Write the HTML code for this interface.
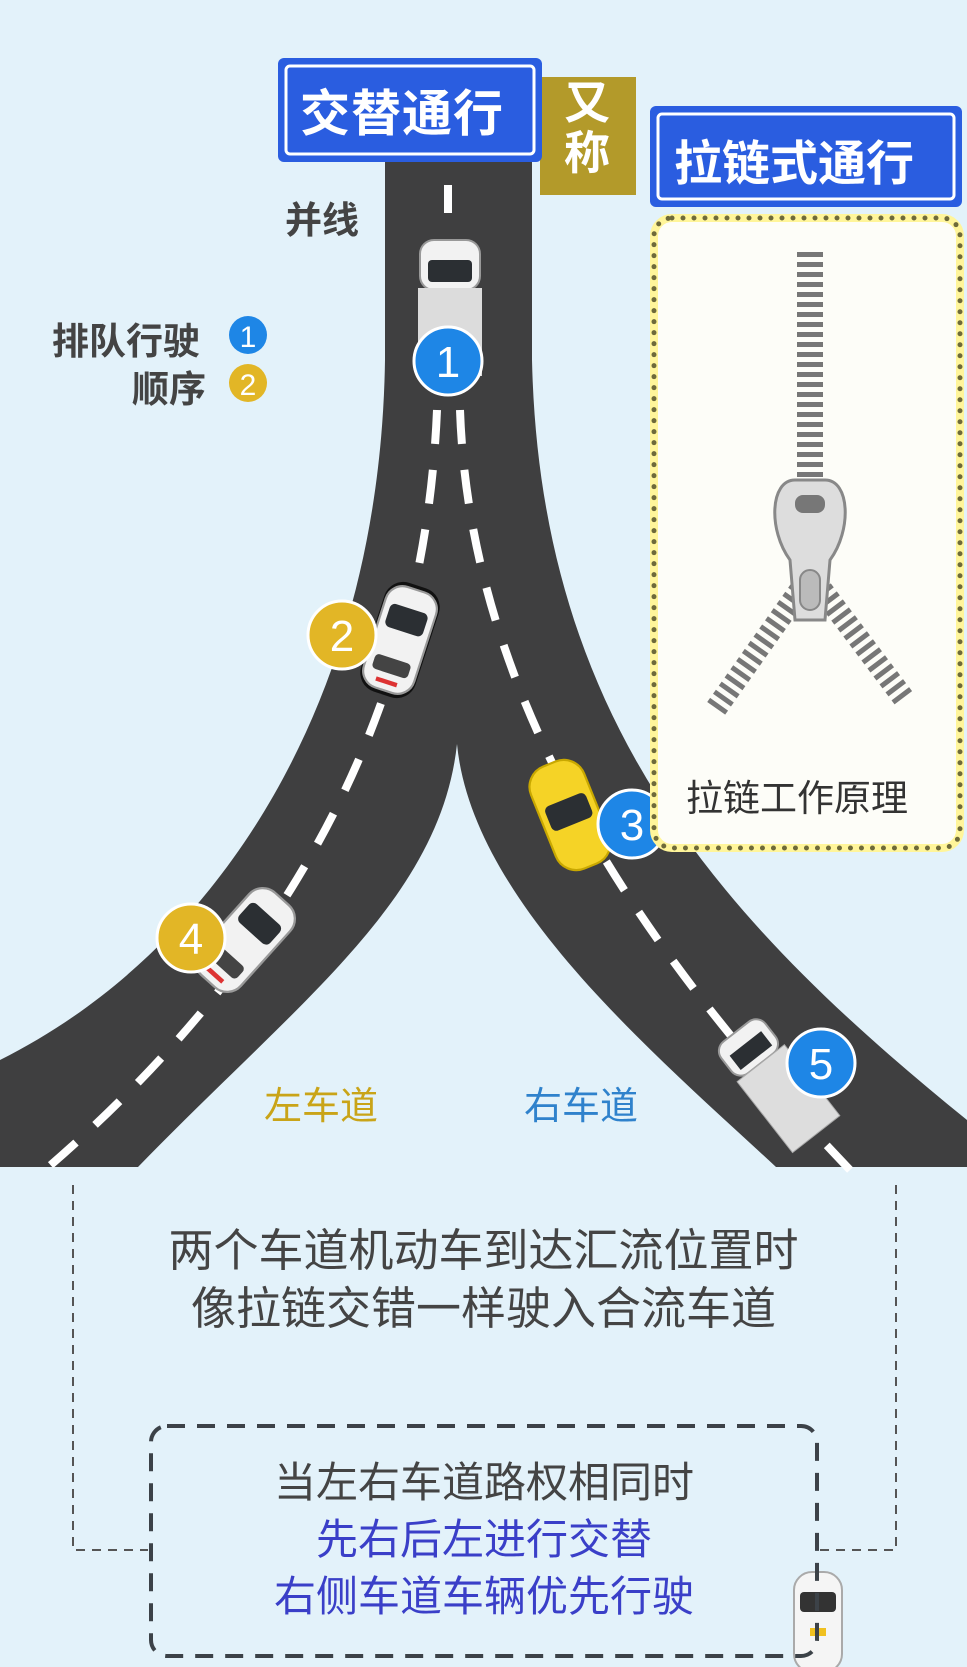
<!DOCTYPE html>
<html><head><meta charset="utf-8"><style>
body{margin:0;width:967px;height:1667px;background:#e3f2fa;position:relative;overflow:hidden;font-family:"Liberation Sans","Noto Sans CJK SC",sans-serif}
.t{position:absolute;white-space:nowrap}
</style></head><body>
<svg width="967" height="1667" style="position:absolute;left:0;top:0">
<defs>
<g id="car"><rect x="-24" y="-48" width="48" height="96" rx="16" fill="#f2f2f2" stroke="#999" stroke-width="2"/><rect x="-18" y="-30" width="36" height="22" rx="5" fill="#2b2f33"/><rect x="-17" y="18" width="34" height="14" rx="4" fill="#444"/><rect x="-10" y="38" width="20" height="4" fill="#d33"/></g>
</defs>
<path d="M385,162 L385,360 C380,700 220,950 0,1060 L0,1167 L138,1167 C300,1000 440,900 457,744 C472,900 650,1050 776,1167 L967,1167 L967,1120 C720,920 540,720 532,360 L532,162 Z" fill="#3f3f40"/>
<path d="M448,185 L448,330" stroke="#fff" stroke-width="8" stroke-dasharray="28,28" fill="none"/>
<path d="M437,410 C425,700 300,950 45,1170" stroke="#fff" stroke-width="8" stroke-dasharray="34,26" fill="none"/>
<path d="M460,410 C470,700 640,950 850,1170" stroke="#fff" stroke-width="8" stroke-dasharray="34,26" fill="none"/>
<g transform="translate(450,310)"><rect x="-30" y="-70" width="60" height="50" rx="14" fill="#f2f2f2" stroke="#999" stroke-width="2"/><rect x="-22" y="-50" width="44" height="22" rx="4" fill="#2b2f33"/><rect x="-32" y="-22" width="64" height="88" fill="#dcdcdc"/></g>
<g transform="translate(400,640) rotate(18) scale(1.1)"><rect x="-26" y="-52" width="52" height="104" rx="18" fill="#111"/><use href="#car"/></g>
<g transform="translate(570,815) rotate(-22) scale(1.1)"><rect x="-26" y="-50" width="52" height="100" rx="20" fill="#f5d326" stroke="#c9a800" stroke-width="2"/><rect x="-20" y="-15" width="40" height="24" rx="5" fill="#2b2f33"/></g>
<g transform="translate(245,940) rotate(42) scale(1.15)"><use href="#car"/></g>
<g transform="translate(770,1075) rotate(-38)"><rect x="-28" y="-55" width="56" height="40" rx="12" fill="#f2f2f2" stroke="#999" stroke-width="2"/><rect x="-20" y="-40" width="40" height="18" fill="#2b2f33"/><rect x="-30" y="-15" width="60" height="90" fill="#ddd" stroke="#aaa"/></g>
<g transform="translate(818,1620)"><rect x="-24" y="-48" width="48" height="100" rx="18" fill="#f5f5f5" stroke="#aaa" stroke-width="2"/><rect x="-18" y="-28" width="36" height="20" rx="4" fill="#333"/><rect x="-8" y="8" width="16" height="8" fill="#f0c020"/></g>
<g font-family="Liberation Sans,sans-serif" font-size="44" fill="#fff" text-anchor="middle">
<circle cx="448" cy="361" r="34" fill="#1e86e6" stroke="#fff" stroke-width="3"/><text x="448" y="377">1</text>
<circle cx="342" cy="635" r="34" fill="#e2b626" stroke="#fff" stroke-width="3"/><text x="342" y="651">2</text>
<circle cx="632" cy="824" r="34" fill="#1e86e6" stroke="#fff" stroke-width="3"/><text x="632" y="840">3</text>
<circle cx="191" cy="938" r="34" fill="#e2b626" stroke="#fff" stroke-width="3"/><text x="191" y="954">4</text>
<circle cx="821" cy="1063" r="34" fill="#1e86e6" stroke="#fff" stroke-width="3"/><text x="821" y="1079">5</text>
<circle cx="248" cy="335" r="19" fill="#1e86e6"/><text x="248" y="347" font-size="30">1</text>
<circle cx="248" cy="383" r="19" fill="#e2b626"/><text x="248" y="395" font-size="30">2</text>
</g>
<rect x="540" y="77" width="96" height="118" fill="#b39a2a"/>
<rect x="278" y="58" width="264" height="104" rx="6" fill="#2a5de0"/>
<rect x="286" y="66" width="248" height="88" rx="4" fill="none" stroke="#fff" stroke-width="3"/>
<rect x="650" y="106" width="312" height="101" rx="6" fill="#2a5de0"/>
<rect x="658" y="114" width="296" height="85" rx="4" fill="none" stroke="#fff" stroke-width="3"/>
<rect x="654" y="218" width="306" height="630" rx="18" fill="#fdfdf8" stroke="#fff59a" stroke-width="8"/>
<rect x="654" y="218" width="306" height="630" rx="18" fill="none" stroke="#6e6a3a" stroke-width="5" stroke-dasharray="0,11" stroke-linecap="round"/>
<path d="M810,252 L810,478" stroke="#777" stroke-width="26" stroke-dasharray="5,5"/>
<path d="M800,590 L715,710" stroke="#777" stroke-width="22" stroke-dasharray="5,5"/>
<path d="M822,590 L905,700" stroke="#777" stroke-width="22" stroke-dasharray="5,5"/>
<path d="M795,480 C770,480 768,530 790,560 L795,620 L825,620 L830,560 C852,530 850,480 825,480 Z" fill="#ddd" stroke="#888" stroke-width="3"/>
<rect x="795" y="495" width="30" height="18" rx="8" fill="#777"/>
<rect x="800" y="570" width="20" height="40" rx="10" fill="#bbb" stroke="#888" stroke-width="2"/>
<path d="M73,1185 L73,1550 L148,1550 M896,1185 L896,1550 L820,1550" stroke="#555" stroke-width="2" stroke-dasharray="9,7" fill="none"/>
<rect x="151" y="1426" width="666" height="230" rx="16" fill="none" stroke="#3c4248" stroke-width="4" stroke-dasharray="18,12"/>
</svg>
<div class="t" style="left:300px;top:74px;font-size:50px;font-weight:bold;color:#fff;letter-spacing:1px">交替通行</div>
<div class="t" style="left:564px;top:78px;font-size:46px;font-weight:bold;color:#fff;line-height:50px">又<br>称</div>
<div class="t" style="left:674px;top:124px;font-size:48px;font-weight:bold;color:#fff">拉链式通行</div>
<div class="t" style="left:285px;top:190px;font-size:37px;color:#444;font-weight:bold">并线</div>
<div class="t" style="left:52px;top:311px;font-size:37px;color:#444;font-weight:bold">排队行驶</div>
<div class="t" style="left:132px;top:359px;font-size:37px;color:#444;font-weight:bold">顺序</div>
<div class="t" style="left:686px;top:768px;font-size:37px;color:#333">拉链工作原理</div>
<div class="t" style="left:264px;top:1075px;font-size:38px;color:#c9a418">左车道</div>
<div class="t" style="left:524px;top:1075px;font-size:38px;color:#2f82cc">右车道</div>
<div class="t" style="left:0;width:967px;text-align:center;top:1222px;font-size:45px;color:#444;line-height:58px">两个车道机动车到达汇流位置时<br>像拉链交错一样驶入合流车道</div>
<div class="t" style="left:151px;width:666px;text-align:center;top:1454px;font-size:42px;color:#444;line-height:57px">当左右车道路权相同时<br><span style="color:#3a3fc8">先右后左进行交替<br>右侧车道车辆优先行驶</span></div>
</body></html>
